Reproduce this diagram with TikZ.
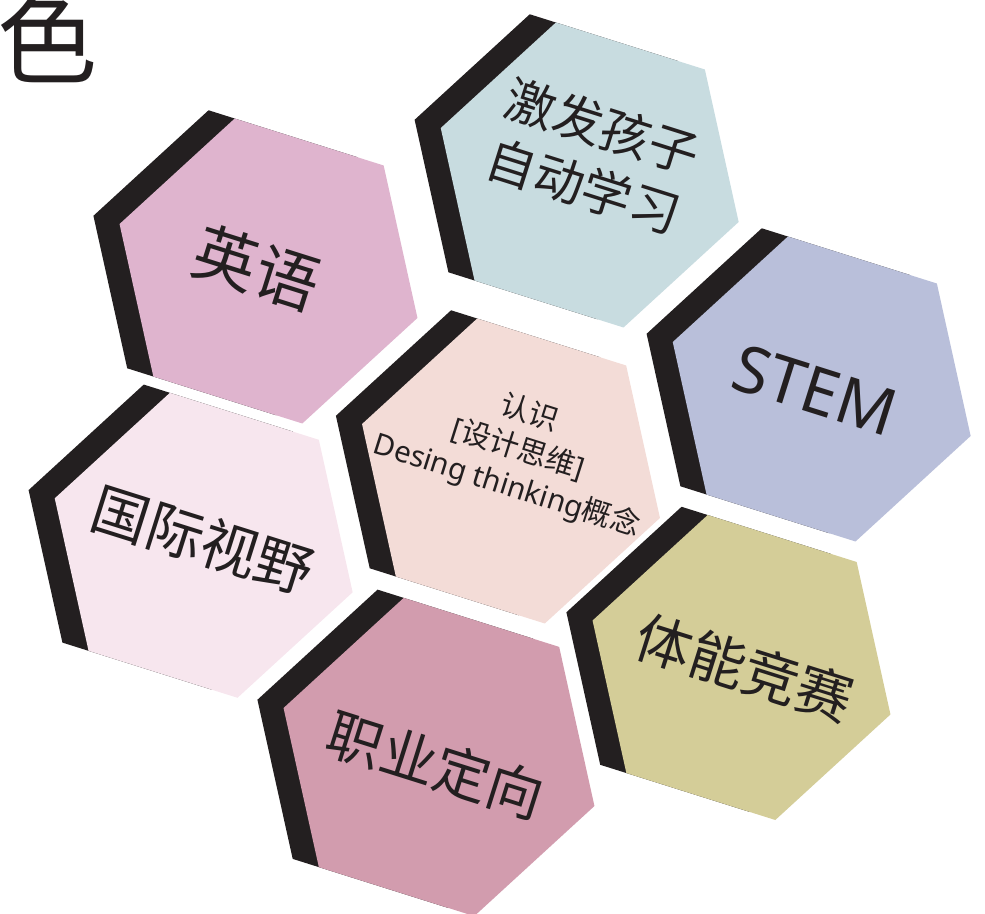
\documentclass[tikz,border=0pt]{standalone}
\usepackage{fontspec}
\setmainfont{Noto Sans}
\newfontfamily\cjk{Noto Sans CJK SC}
\definecolor{ink}{HTML}{231F20}
\definecolor{cEnglish}{HTML}{DFB4CE}
\definecolor{cMotive}{HTML}{C8DCE0}
\definecolor{cStem}{HTML}{B9BFDA}
\definecolor{cDesign}{HTML}{F3DCD7}
\definecolor{cGlobal}{HTML}{F7E6EE}
\definecolor{cSport}{HTML}{D4CD98}
\definecolor{cCareer}{HTML}{D29CAE}
\newcommand\hexcell[3]{%
  \begin{scope}[shift={(#1)}, rotate=-17.5]
    \fill[ink, shift={(-27.4,0)}] (0:#2) -- (60:#2) -- (120:#2) -- (180:#2) -- (240:#2) -- (300:#2) -- cycle;
    \fill[#3] (0:#2) -- (60:#2) -- (120:#2) -- (180:#2) -- (240:#2) -- (300:#2) -- cycle;
  \end{scope}}
\tikzset{
  lbl/.style={rotate=-17.5, text=ink, align=center, inner sep=0pt},
  big/.style={font=\cjk\fontsize{#1}{#1}\selectfont},
}
\begin{document}
\begin{tikzpicture}[x=1pt, y=1pt]
\useasboundingbox (0,-913) rectangle (985,0);
% centres
\coordinate (cEN) at (268.5,-271);
\coordinate (cMO) at (589.7,-175);
\coordinate (cST) at (821.7,-389);
\coordinate (cDE) at (511,-471);
\coordinate (cGL) at (203.7,-545.3);
\coordinate (cSP) at (741.5,-667.5);
\coordinate (cCA) at (439,-757);
% hexagons
\hexcell{cEN}{156.2}{cEnglish}
\hexcell{cMO}{156.2}{cMotive}
\hexcell{cST}{156.2}{cStem}
\hexcell{cDE}{156.2}{cDesign}
\hexcell{cGL}{156.2}{cGlobal}
\hexcell{cSP}{156.2}{cSport}
\hexcell{cCA}{163}{cCareer}
% labels
\node[lbl, big=64] (tEN) at (257,-268) {英语};
\node[lbl, font=\cjk\fontsize{50}{63}\selectfont] (tMO) at (593,-156) {激发孩子\\自动学习};
\node[lbl, font=\fontsize{65}{65}\selectfont] (tST) at (815,-390) {STEM};
\node[lbl, font=\fontsize{29.5}{38}\selectfont] (tDE) at (518,-450) {{\cjk 认识}\\{[}{\cjk 设计思维}{]}\\Desing thinking{\cjk 概念}};
\node[lbl, big=57] (tGL) at (203,-540) {国际视野};
\node[lbl, big=56] (tSP) at (745,-668) {体能竞赛};
\node[lbl, big=56] (tCA) at (436,-765) {职业定向};
% corner character
\node[anchor=south west, inner sep=0pt, text=ink, big=100] (corner) at (-3,-83) {色};
\end{tikzpicture}
\end{document}
